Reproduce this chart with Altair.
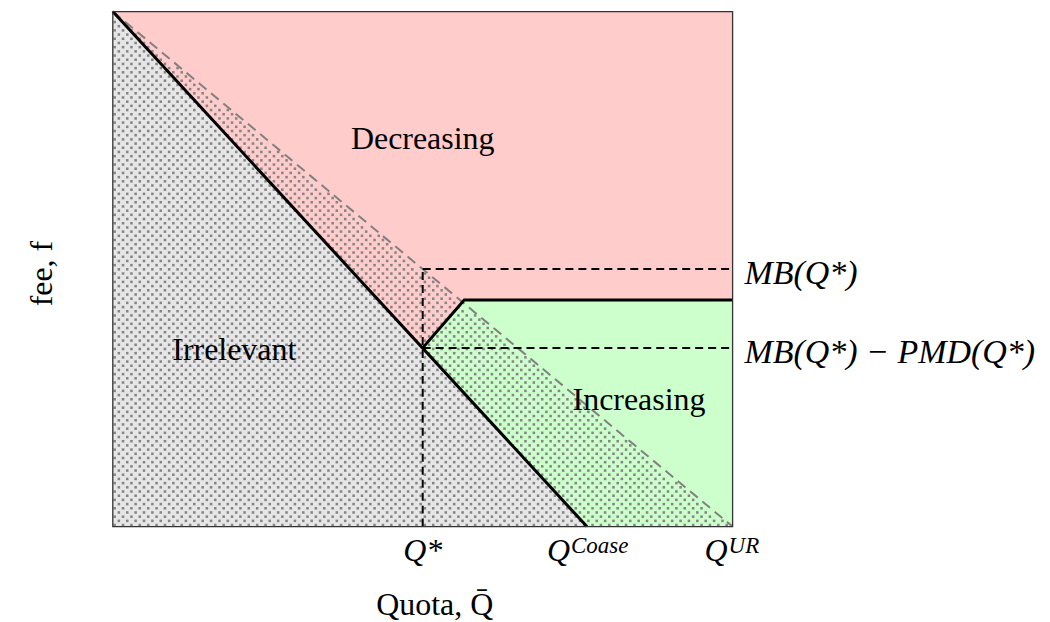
import altair as alt
import numpy as np
import pandas as pd

# ---- key quantities (data units: quota on x, fee on y) ----
Q_STAR = 5.0
Q_COASE = 7.65
Q_UR = 10.0
F_MAX = 10.0
MB_QSTAR = 5.0          # MB(Q*)
MB_MINUS_PMD = 3.47     # MB(Q*) - PMD(Q*)
F_UPPER = 4.4           # upper boundary of the "Increasing" region
X_CORNER = 5.67         # where the boundary turns horizontal
COASE_AT_CORNER = 2.59  # Coase line value at X_CORNER

# lines
coase_x = [0.0, Q_COASE]
coase_y = [F_MAX, 0.0]
mb_x = [0.0, Q_UR]
mb_y = [F_MAX, 0.0]
bound_x = [Q_STAR, X_CORNER, Q_UR]
bound_y = [MB_MINUS_PMD, F_UPPER, F_UPPER]

# regions
green_x = [Q_STAR, X_CORNER, Q_COASE, Q_UR]
green_lo = [MB_MINUS_PMD, COASE_AT_CORNER, 0.0, 0.0]
green_hi = [MB_MINUS_PMD, F_UPPER, F_UPPER, F_UPPER]
gray_x = [0.0, Q_COASE]
gray_hi = [F_MAX, 0.0]

# dashed guide rules
rule_x = [Q_STAR, Q_STAR, Q_STAR]
rule_x2 = [Q_STAR, Q_UR, Q_UR]
rule_y = [0.0, MB_QSTAR, MB_MINUS_PMD]
rule_y2 = [MB_QSTAR, MB_QSTAR, MB_MINUS_PMD]

# labels
region_labels = ["Decreasing", "Irrelevant", "Increasing"]
region_x = [5.0, 1.96, 8.49]
region_y = [7.33, 3.24, 2.27]
right_labels = ["MB(Q*)", "MB(Q*) − PMD(Q*)"]
right_y = [MB_QSTAR, MB_MINUS_PMD]
tick_x = [Q_STAR, Q_COASE, Q_UR]
tick_main = ["Q*", "Q", "Q"]
tick_sup = ["", "Coase", "UR"]

W, H = 621, 516
FONT = "Liberation Serif"

# dotted texture (staggered lattice) below the MB line
step_x = 8.4 * Q_UR / W
step_y = 4.2 * F_MAX / H
tx, ty = [], []
for j in range(int(F_MAX / step_y) + 1):
    yy = 0.03 + j * step_y
    off = (j % 2) * step_x / 2
    for i in range(int(Q_UR / step_x) + 2):
        xx = 0.03 + off + i * step_x
        if xx <= Q_UR and yy <= F_MAX and xx / Q_UR + yy / F_MAX < 0.995:
            tx.append(xx)
            ty.append(yy)
dots = pd.DataFrame({"x": tx, "y": ty})

SX = alt.Scale(domain=[0, Q_UR], nice=False, zero=False)
SY = alt.Scale(domain=[0, F_MAX], nice=False, zero=False)
AX = alt.Axis(title="Quota, Q̄", domain=False, ticks=False, labels=False, grid=False,
              titleFont=FONT, titleFontSize=32, titleFontWeight="normal", titleColor="black",
              titleX=322, titleY=88, titleAlign="center", titleBaseline="alphabetic")
AY = alt.Axis(title="fee, f", domain=False, ticks=False, labels=False, grid=False,
              titleFont=FONT, titleFontSize=32, titleFontWeight="normal", titleColor="black",
              titleAngle=270, titleX=-61, titleY=262, titleAlign="center",
              titleBaseline="alphabetic")


def X(f="x"):
    return alt.X(f"{f}:Q", scale=SX, axis=AX)


def Y(f="y"):
    return alt.Y(f"{f}:Q", scale=SY, axis=AY)


frame_df = pd.DataFrame({"x": [0.0], "x2": [Q_UR], "y": [0.0], "y2": [F_MAX]})

pink = alt.Chart(frame_df).mark_rect(color="#ffcccc").encode(
    x=X(), x2="x2:Q", y=Y(), y2="y2:Q")

gray = alt.Chart(pd.DataFrame({"x": gray_x, "y": [0.0, 0.0], "y2": gray_hi})).mark_area(
    color="#e6e6e6", opacity=1).encode(x=X(), y=Y(), y2="y2:Q")

green = alt.Chart(pd.DataFrame({"x": green_x, "y": green_lo, "y2": green_hi})).mark_area(
    color="#ccffcc", opacity=1).encode(x=X(), y=Y(), y2="y2:Q")

dot_layer = alt.Chart(dots).mark_square(size=6.5, color="#858585", opacity=1).encode(
    x=X(), y=Y())

mb_line = alt.Chart(pd.DataFrame({"x": mb_x, "y": mb_y})).mark_line(
    color="#808080", strokeWidth=2, strokeDash=[10, 6]).encode(x=X(), y=Y())

rules = alt.Chart(pd.DataFrame({"x": rule_x, "x2": rule_x2, "y": rule_y, "y2": rule_y2})).mark_rule(
    color="black", strokeWidth=2, strokeDash=[8, 5]).encode(x=X(), x2="x2:Q", y=Y(), y2="y2:Q")

coase_line = alt.Chart(pd.DataFrame({"x": coase_x, "y": coase_y})).mark_line(
    color="black", strokeWidth=3).encode(x=X(), y=Y())

bound_line = alt.Chart(pd.DataFrame({"x": bound_x, "y": bound_y})).mark_line(
    color="black", strokeWidth=3).encode(x=X(), y=Y())

frame = alt.Chart(frame_df).mark_rect(filled=False, stroke="#333333", strokeWidth=1.3).encode(
    x=X(), x2="x2:Q", y=Y(), y2="y2:Q")

region_text = alt.Chart(pd.DataFrame({"x": region_x, "y": region_y, "label": region_labels})).mark_text(
    font=FONT, fontSize=32, color="black", align="center", baseline="alphabetic").encode(
    x=X(), y=Y(), text="label:N")

right_text = alt.Chart(pd.DataFrame({"x": [Q_UR, Q_UR], "y": right_y, "label": right_labels})).mark_text(
    font=FONT, fontSize=34, fontStyle="italic", color="black", align="left",
    baseline="alphabetic", dx=12, dy=15).encode(x=X(), y=Y(), text="label:N")

ticks_df = pd.DataFrame({"x": tick_x, "y": [0.0] * 3, "main": tick_main, "sup": tick_sup})
tbase = alt.Chart(ticks_df)
t_star = tbase.transform_filter(alt.datum.sup == "").mark_text(
    font=FONT, fontSize=32, fontStyle="italic", color="black", align="center",
    baseline="alphabetic", dy=34).encode(x=X(), y=Y(), text="main:N")
t_coase_q = tbase.transform_filter(alt.datum.sup == "Coase").mark_text(
    font=FONT, fontSize=32, fontStyle="italic", color="black", align="right",
    baseline="alphabetic", dx=-17, dy=34).encode(x=X(), y=Y(), text="main:N")
t_coase_s = tbase.transform_filter(alt.datum.sup == "Coase").mark_text(
    font=FONT, fontSize=23, fontStyle="italic", color="black", align="left",
    baseline="alphabetic", dx=-16, dy=26).encode(x=X(), y=Y(), text="sup:N")
t_ur_q = tbase.transform_filter(alt.datum.sup == "UR").mark_text(
    font=FONT, fontSize=32, fontStyle="italic", color="black", align="right",
    baseline="alphabetic", dx=-5, dy=34).encode(x=X(), y=Y(), text="main:N")
t_ur_s = tbase.transform_filter(alt.datum.sup == "UR").mark_text(
    font=FONT, fontSize=23, fontStyle="italic", color="black", align="left",
    baseline="alphabetic", dx=-4, dy=26).encode(x=X(), y=Y(), text="sup:N")

chart = alt.layer(
    pink, gray, green, dot_layer, mb_line, rules, coase_line, bound_line, frame,
    region_text, right_text, t_star, t_coase_q, t_coase_s, t_ur_q, t_ur_s
).properties(
    width=W, height=H,
    padding={"left": 105, "top": 3, "right": 310, "bottom": 95},
    autosize=alt.AutoSizeParams(type="none"),
).configure_view(strokeWidth=0)

chart.save("out.html", embed_options={"renderer": "svg", "actions": False})
